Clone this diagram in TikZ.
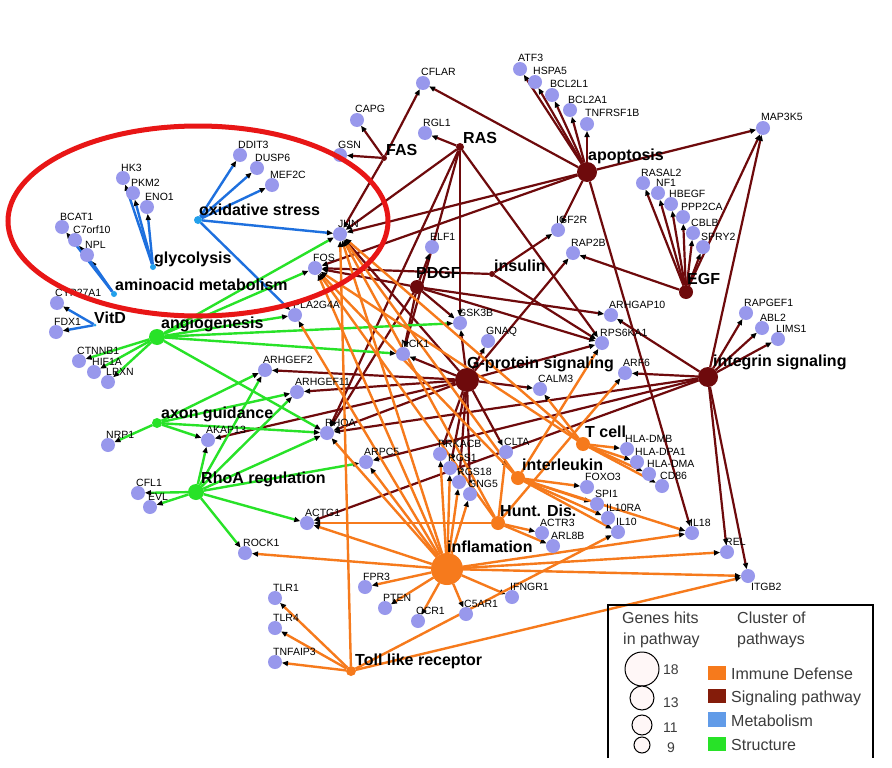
\documentclass[tikz,border=0pt]{standalone}
\usepackage{fontspec}
\setmainfont{Liberation Sans}
\usetikzlibrary{arrows.meta,backgrounds}

\definecolor{sigc}{RGB}{110,10,12}
\definecolor{immc}{RGB}{246,122,28}
\definecolor{metc}{RGB}{30,112,222}
\definecolor{metdot}{RGB}{35,160,235}
\definecolor{strc}{RGB}{40,226,40}
\definecolor{genec}{RGB}{152,152,236}
\definecolor{ringc}{RGB}{232,22,22}
\definecolor{legtext}{RGB}{60,60,60}

\begin{document}
\begin{tikzpicture}[x=1pt,y=-1pt]
  \tikzstyle{gene}=[circle,fill=genec,minimum size=14pt,inner sep=0pt,outer sep=0pt]
  \tikzstyle{gl}=[anchor=base west,inner sep=0pt,xshift=-2pt,font=\fontsize{10.5}{12}\selectfont]
  \tikzstyle{pw}=[circle,inner sep=0pt,outer sep=0pt]
  \tikzstyle{pl}=[anchor=base west,inner sep=0pt,font=\fontsize{16}{18}\selectfont\bfseries]
  \tikzstyle{arr}=[-{Triangle[length=6pt,width=5pt,color=black]}]
  \tikzstyle{sig}=[arr,color=sigc,line width=2.2pt]
  \tikzstyle{imm}=[arr,color=immc,line width=2.4pt]
  \tikzstyle{met}=[arr,color=metc,line width=2.4pt]
  \tikzstyle{str}=[arr,color=strc,line width=2.4pt]
  \tikzstyle{lt}=[anchor=base west,inner sep=0pt,text=legtext,font=\fontsize{16}{18}\selectfont]

  \useasboundingbox (0,0) rectangle (892,768);

  % genes
  \node[gene,label={[gl]CFLAR}] (cflar) at (423,83) {};
  \node[gene,label={[gl]ATF3}] (atf3) at (520,69) {};
  \node[gene,label={[gl]HSPA5}] (hspa5) at (535,82) {};
  \node[gene,label={[gl]BCL2L1}] (bcl2l1) at (552,95) {};
  \node[gene,label={[gl]BCL2A1}] (bcl2a1) at (570,110) {};
  \node[gene,label={[gl]TNFRSF1B}] (tnfrsf1b) at (587,124) {};
  \node[gene,label={[gl]CAPG}] (capg) at (357,120) {};
  \node[gene,label={[gl]GSN}] (gsn) at (340,155) {};
  \node[gene,label={[gl]RGL1}] (rgl1) at (425,133) {};
  \node[gene,label={[gl]MAP3K5}] (map3k5) at (763,128) {};
  \node[gene,label={[gl]DDIT3}] (ddit3) at (240,155) {};
  \node[gene,label={[gl]DUSP6}] (dusp6) at (257,168) {};
  \node[gene,label={[gl]MEF2C}] (mef2c) at (272,185) {};
  \node[gene,label={[gl]HK3}] (hk3) at (123,178) {};
  \node[gene,label={[gl]PKM2}] (pkm2) at (133,193) {};
  \node[gene,label={[gl]ENO1}] (eno1) at (147,207) {};
  \node[gene,label={[gl]BCAT1}] (bcat1) at (62,227) {};
  \node[gene,label={[gl]C7orf10}] (c7orf10) at (75,240) {};
  \node[gene,label={[gl]NPL}] (npl) at (87,255) {};
  \node[gene,label={[gl]JUN}] (jun) at (340,234) {};
  \node[gene,label={[gl]FOS}] (fos) at (315,268) {};
  \node[gene,label={[gl]PLA2G4A}] (pla2g4a) at (295,315) {};
  \node[gene,label={[gl]CYP27A1}] (cyp27a1) at (57,303) {};
  \node[gene,label={[gl]FDX1}] (fdx1) at (56,332) {};
  \node[gene,label={[gl]ELF1}] (elf1) at (432,247) {};
  \node[gene,label={[gl]IGF2R}] (igf2r) at (558,230) {};
  \node[gene,label={[gl]RAP2B}] (rap2b) at (573,253) {};
  \node[gene,label={[gl]RASAL2}] (rasal2) at (643,183) {};
  \node[gene,label={[gl]NF1}] (nf1) at (658,193) {};
  \node[gene,label={[gl]HBEGF}] (hbegf) at (671,204) {};
  \node[gene,label={[gl]PPP2CA}] (ppp2ca) at (683,217) {};
  \node[gene,label={[gl]CBLB}] (cblb) at (693,233) {};
  \node[gene,label={[gl]SPRY2}] (spry2) at (703,247) {};
  \node[gene,label={[gl]ARHGAP10}] (arhgap10) at (611,315) {};
  \node[gene,label={[gl]RPS6KA1}] (rps6ka1) at (602,343) {};
  \node[gene,label={[gl]ARF6}] (arf6) at (625,373) {};
  \node[gene,label={[gl]RAPGEF1}] (rapgef1) at (746,313) {};
  \node[gene,label={[gl]ABL2}] (abl2) at (762,328) {};
  \node[gene,label={[gl]LIMS1}] (lims1) at (778,339) {};
  \node[gene,label={[gl]GSK3B}] (gsk3b) at (460,323) {};
  \node[gene,label={[gl]GNAQ}] (gnaq) at (488,341) {};
  \node[gene,label={[gl]NCK1}] (nck1) at (403,354) {};
  \node[gene,label={[gl]CALM3}] (calm3) at (540,389) {};
  \node[gene,label={[gl]CTNNB1}] (ctnnb1) at (79,361) {};
  \node[gene,label={[gl]HIF1A}] (hif1a) at (94,372) {};
  \node[gene,label={[gl]LPXN}] (lpxn) at (108,382) {};
  \node[gene,label={[gl]ARHGEF2}] (arhgef2) at (265,370) {};
  \node[gene,label={[gl]ARHGEF11}] (arhgef11) at (297,392) {};
  \node[gene,label={[gl]NRP1}] (nrp1) at (108,445) {};
  \node[gene,label={[gl]AKAP13}] (akap13) at (208,440) {};
  \node[gene,label={[gl]RHOA}] (rhoa) at (327,433) {};
  \node[gene,label={[gl]ARPC5}] (arpc5) at (366,462) {};
  \node[gene,label={[gl]PRKACB}] (prkacb) at (440,454) {};
  \node[gene,label={[gl]RGS1}] (rgs1) at (450,468) {};
  \node[gene,label={[gl]RGS18}] (rgs18) at (459,482) {};
  \node[gene,label={[gl]GNG5}] (gng5) at (470,494) {};
  \node[gene,label={[gl]CLTA}] (clta) at (506,452) {};
  \node[gene,label={[gl]HLA-DMB}] (hladmb) at (627,449) {};
  \node[gene,label={[gl]HLA-DPA1}] (hladpa1) at (637,462) {};
  \node[gene,label={[gl]HLA-DMA}] (hladma) at (649,474) {};
  \node[gene,label={[gl]CD86}] (cd86) at (662,486) {};
  \node[gene,label={[gl]FOXO3}] (foxo3) at (587,487) {};
  \node[gene,label={[gl]SPI1}] (spi1) at (597,504) {};
  \node[gene,label={[gl]IL10RA}] (il10ra) at (608,518) {};
  \node[gene,label={[gl]IL10}] (il10) at (618,532) {};
  \node[gene,label={[gl]ACTR3}] (actr3) at (542,533) {};
  \node[gene,label={[gl]ARL8B}] (arl8b) at (553,546) {};
  \node[gene,label={[gl]IL18}] (il18) at (692,533) {};
  \node[gene,label={[gl]REL}] (rel) at (727,552) {};
  \node[gene,label={[gl,anchor=north west,xshift=0pt,yshift=-2pt]below right:ITGB2}] (itgb2) at (748,576) {};
  \node[gene,label={[gl]CFL1}] (cfl1) at (138,493) {};
  \node[gene,label={[gl]EVL}] (evl) at (150,507) {};
  \node[gene,label={[gl]ACTG1}] (actg1) at (307,523) {};
  \node[gene,label={[gl]ROCK1}] (rock1) at (245,553) {};
  \node[gene,label={[gl]FPR3}] (fpr3) at (365,587) {};
  \node[gene,label={[gl]PTEN}] (pten) at (385,608) {};
  \node[gene,label={[gl]CCR1}] (ccr1) at (418,621) {};
  \node[gene,label={[gl]C5AR1}] (c5ar1) at (466,614) {};
  \node[gene,label={[gl]IFNGR1}] (ifngr1) at (512,597) {};
  \node[gene,label={[gl]TLR1}] (tlr1) at (275,598) {};
  \node[gene,label={[gl]TLR4}] (tlr4) at (275,628) {};
  \node[gene,label={[gl]TNFAIP3}] (tnfaip3) at (275,662) {};

  % pathways
  \node[pw,fill=sigc,minimum size=6pt] (fas) at (384,158) {};
  \node[pl] (fas-t) at (386,155) {FAS};
  \node[pw,fill=sigc,minimum size=8pt] (ras) at (460,147) {};
  \node[pl] (ras-t) at (463,143) {RAS};
  \node[pw,fill=sigc,minimum size=20pt] (apoptosis) at (587,172) {};
  \node[pl] (apoptosis-t) at (588,160) {apoptosis};
  \node[pw,fill=sigc,minimum size=14pt] (pdgf) at (417,287) {};
  \node[pl] (pdgf-t) at (416,278) {PDGF};
  \node[pw,fill=sigc,minimum size=6pt] (insulin) at (492,274) {};
  \node[pl] (insulin-t) at (494,271) {insulin};
  \node[pw,fill=sigc,minimum size=14pt] (egf) at (686,292) {};
  \node[pl] (egf-t) at (687,284) {EGF};
  \node[pw,fill=sigc,minimum size=24pt] (gprot) at (467,380) {};
  \node[pl] (gprot-t) at (467,368) {G-protein signaling};
  \node[pw,fill=sigc,minimum size=20pt] (integrin) at (708,377) {};
  \node[pl] (integrin-t) at (713,366) {integrin signaling};
  \node[pw,fill=immc,minimum size=14pt] (tcell) at (583,444) {};
  \node[pl] (tcell-t) at (585,437) {T cell};
  \node[pw,fill=immc,minimum size=14pt] (interleukin) at (518,478) {};
  \node[pl] (interleukin-t) at (522,470) {interleukin};
  \node[pw,fill=immc,minimum size=14pt] (huntdis) at (498,523) {};
  \node[pl] (huntdis-t) at (500,516) {Hunt. Dis.};
  \node[pw,fill=immc,minimum size=32pt] (inflamation) at (447,569) {};
  \node[pl] (inflamation-t) at (447,552) {inflamation};
  \node[pw,fill=immc,minimum size=10pt] (toll) at (351,671) {};
  \node[pl] (toll-t) at (355,665) {Toll like receptor};
  \node[pw,fill=metdot,minimum size=8pt] (oxstress) at (198,220) {};
  \node[pl] (oxstress-t) at (199,215) {oxidative stress};
  \node[pw,fill=metdot,minimum size=6pt] (glycolysis) at (153,267) {};
  \node[pl] (glycolysis-t) at (154,263) {glycolysis};
  \node[pw,fill=metdot,minimum size=6pt] (aminoacid) at (114,294) {};
  \node[pl] (aminoacid-t) at (115,290) {aminoacid metabolism};
  \node[pw,fill=metdot,minimum size=3pt] (vitd) at (95,325) {};
  \node[pl] (vitd-t) at (94,323) {VitD};
  \node[pw,fill=strc,minimum size=16pt] (angio) at (157,337) {};
  \node[pl] (angio-t) at (161,328) {angiogenesis};
  \node[pw,fill=strc,minimum size=10pt] (axon) at (157,423) {};
  \node[pl] (axon-t) at (161,418) {axon guidance};
  \node[pw,fill=strc,minimum size=16pt] (rhoareg) at (196,492) {};
  \node[pl] (rhoareg-t) at (201,483) {RhoA regulation};

  \begin{pgfonlayer}{background}
  \fill[white] (0,0) rectangle (892,768);
  % signaling pathway
  \path[sig] (fas) edge (capg) edge (gsn) edge (cflar) edge (jun);
  \path[sig] (ras) edge (rgl1) edge (jun) edge (gsk3b) edge (nck1) edge (rhoa) edge (rps6ka1);
  \path[sig] (apoptosis) edge (atf3) edge (hspa5) edge (bcl2l1) edge (bcl2a1) edge (tnfrsf1b)
    edge (cflar) edge (map3k5) edge (jun) edge (fos) edge (igf2r) edge (il18);
  \path[sig] (pdgf) edge (elf1) edge (fos) edge (gsk3b) edge (arhgap10) edge (rps6ka1) edge (rhoa) edge (nck1);
  \path[sig] (insulin) edge (igf2r) edge (fos) edge (rps6ka1);
  \path[sig] (egf) edge (rasal2) edge (nf1) edge (hbegf) edge (ppp2ca) edge (cblb) edge (spry2)
    edge (rap2b) edge (map3k5);
  \path[sig] (gprot) edge (jun) edge (gsk3b) edge (gnaq) edge (nck1) edge (calm3) edge (prkacb)
    edge (rgs1) edge (rgs18) edge (gng5) edge (clta) edge (arhgef2) edge (arhgef11) edge (akap13)
    edge (rhoa) edge (rap2b) edge (rps6ka1);
  \path[sig] (integrin) edge (map3k5) edge (rapgef1) edge (abl2) edge (lims1) edge (arhgap10)
    edge (arf6) edge (rhoa) edge (arpc5) edge (actg1) edge (rel) edge (itgb2);
  % metabolism
  \path[met] (oxstress) edge (ddit3) edge (dusp6) edge (mef2c) edge (jun) edge (pla2g4a);
  \path[met] (glycolysis) edge (hk3) edge (pkm2) edge (eno1);
  \path[met] (aminoacid) edge (npl) edge (c7orf10) edge (bcat1);
  \path[met] (vitd) edge (cyp27a1) edge (fdx1);
  % structure
  \path[str] (angio) edge (jun) edge (fos) edge (pla2g4a) edge (gsk3b) edge (nck1) edge (rhoa)
    edge (ctnnb1) edge (hif1a) edge (lpxn);
  \path[str] (axon) edge (nrp1) edge (akap13) edge (arhgef2) edge (arhgef11) edge (rhoa);
  \path[str] (rhoareg) edge (cfl1) edge (evl) edge (akap13) edge (arhgef2) edge (arhgef11)
    edge (rhoa) edge (arpc5) edge (actg1) edge (rock1);
  % immune defense
  \path[imm] (inflamation) edge (jun) edge (fos) edge (pla2g4a) edge (rhoa) edge (arpc5)
    edge (prkacb) edge (rgs1) edge (rgs18) edge (gng5) edge (actg1) edge (rock1) edge (fpr3)
    edge (pten) edge (ccr1) edge (c5ar1) edge (ifngr1) edge (il18) edge (rel) edge (itgb2);
  \path[imm] (huntdis) edge (jun) edge (fos) edge (actg1) edge (clta) edge (actr3) edge (arl8b) edge (arf6);
  \path[imm] (interleukin) edge (jun) edge (fos) edge (foxo3) edge (spi1) edge (il10ra) edge (il10)
    edge (il18) edge (rps6ka1);
  \path[imm] (tcell) edge (jun) edge (fos) edge (hladmb) edge (hladpa1) edge (hladma) edge (cd86) edge (calm3);
  \path[imm] (toll) edge (jun) edge (tlr1) edge (tlr4) edge (tnfaip3) edge (il10) edge (itgb2);
  \end{pgfonlayer}

  % highlight
  \draw[ringc,line width=5pt] (198,221) ellipse (190pt and 95pt);

  % legend
  \draw[line width=1.5pt] (608,758) -- (608,605) -- (873,605) -- (873,758);
  \node[lt] (lg-hits) at (622,623) {Genes hits};
  \node[lt] (lg-path) at (623,644) {in pathway};
  \node[lt] (lg-clus) at (737,623) {Cluster of};
  \node[lt] (lg-pws) at (737,644) {pathways};
  \node[circle,draw,fill=red!3,line width=1pt,minimum size=34pt,inner sep=0pt] (lg-c18) at (642,669) {};
  \node[circle,draw,fill=red!3,line width=1pt,minimum size=24pt,inner sep=0pt] (lg-c13) at (642,698) {};
  \node[circle,draw,fill=red!3,line width=1pt,minimum size=20pt,inner sep=0pt] (lg-c11) at (642,725) {};
  \node[circle,draw,fill=red!3,line width=1pt,minimum size=16pt,inner sep=0pt] (lg-c9) at (642,745) {};
  \node[lt,font=\fontsize{14}{16}\selectfont] (lg-n18) at (663,674) {18};
  \node[lt,font=\fontsize{14}{16}\selectfont] (lg-n13) at (663,707) {13};
  \node[lt,font=\fontsize{14}{16}\selectfont] (lg-n11) at (663,732) {11};
  \node[lt,font=\fontsize{14}{16}\selectfont] (lg-n9) at (667,752) {9};
  \fill[immc] (708,666) rectangle (726,680);
  \fill[sigc!85!orange] (708,689) rectangle (726,703);
  \fill[metc!70!white] (708,712) rectangle (726,727);
  \fill[strc] (708,737) rectangle (726,751);
  \node[lt] (lg-imm) at (731,679) {Immune Defense};
  \node[lt] (lg-sig) at (731,702) {Signaling pathway};
  \node[lt] (lg-met) at (731,726) {Metabolism};
  \node[lt] (lg-str) at (731,750) {Structure};
\end{tikzpicture}
\end{document}
